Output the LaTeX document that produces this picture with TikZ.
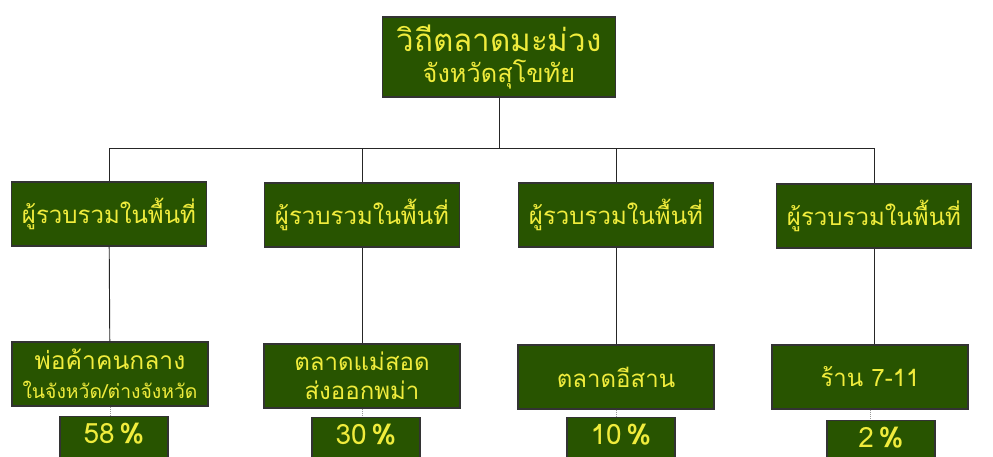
\documentclass[tikz,border=0pt]{standalone}
\usepackage{fontspec}
\newfontfamily\thaifont[Script=Thai]{Loma}
\usepackage{tikz}
\usetikzlibrary{positioning}

\definecolor{mangogreen}{RGB}{40,84,0}
\definecolor{mangoyellow}{RGB}{240,236,60}

\tikzset{
  greenbox/.style={draw=black!80, fill=mangogreen, text=mangoyellow, line width=0.8pt,
    align=center, inner sep=2pt, font=\thaifont\fontsize{18}{22}\selectfont},
  collbox/.style={greenbox, minimum width=146pt, minimum height=48pt},
  shopbox/.style={greenbox, minimum width=147pt, minimum height=48pt},
  pctbox/.style={greenbox, minimum width=81pt, anchor=north, text height=19pt, text depth=16pt,
    inner ysep=1pt, font=\thaifont\fontsize{21}{24}\selectfont},
  link/.style={draw=black!85, line width=0.7pt},
  dotlink/.style={draw=black!40, line width=0.6pt, densely dotted}
}

\begin{document}
\begin{tikzpicture}[x=0.75pt, y=-0.75pt]
\useasboundingbox (0,0) rectangle (993,457);

\node[greenbox, minimum width=175pt, minimum height=60pt] (Mango) at (499,57)
  {{\fontsize{23.5}{27}\selectfont วิถีตลาดมะม่วง}\\[1pt] {\fontsize{19}{22}\selectfont จังหวัดสุโขทัย}};

\node[collbox] (Coll1) at (109,214) {ผู้รวบรวมในพื้นที่};
\node[collbox] (Coll2) at (362,215) {ผู้รวบรวมในพื้นที่};
\node[collbox] (Coll3) at (616,215) {ผู้รวบรวมในพื้นที่};
\node[collbox] (Coll4) at (874,216) {ผู้รวบรวมในพื้นที่};

\node[shopbox] (Middle) at (110,374) {{\fontsize{18.5}{22}\selectfont พ่อค้าคนกลาง}\\{\fontsize{14.5}{18}\selectfont ในจังหวัด/ต่างจังหวัด}};
\node[shopbox] (MaeSot) at (362,376) {ตลาดแม่สอด\\ส่งออกพม่า};
\node[shopbox] (Isan) at (616,377) {ตลาดอีสาน};
\node[shopbox] (SevenEleven) at (870,377) {ร้าน 7-11};

\node[pctbox] (P1) at (114,416) {58\,\textbf{\%}};
\node[pctbox] (P2) at (366,417) {30\,\textbf{\%}};
\node[pctbox] (P3) at (621,417) {10\,\textbf{\%}};
\node[pctbox] (P4) at (881,420) {2\,\textbf{\%}};

% tree lines
\coordinate (bar) at (499,148);
\draw[link] (Mango.south) -- (bar);
\draw[link] (Coll1.north |- bar) -- (Coll4.north |- bar);
\foreach \c in {Coll1,Coll2,Coll3,Coll4}
  \draw[link] (\c.north |- bar) -- (\c.north);

\draw[link] (Coll1) -- (Middle);
\draw[link] (Coll2) -- (MaeSot);
\draw[link] (Coll3) -- (Isan);
\draw[link] (Coll4.south) -- (Coll4.south |- SevenEleven.north);

\draw[dotlink] (Middle.south) -- (Middle.south |- P1.north);
\draw[dotlink] (MaeSot.south) -- (MaeSot.south |- P2.north);
\draw[dotlink] (Isan.south) -- (Isan.south |- P3.north);
\draw[dotlink] (SevenEleven.south) -- (SevenEleven.south |- P4.north);
\end{tikzpicture}
\end{document}
